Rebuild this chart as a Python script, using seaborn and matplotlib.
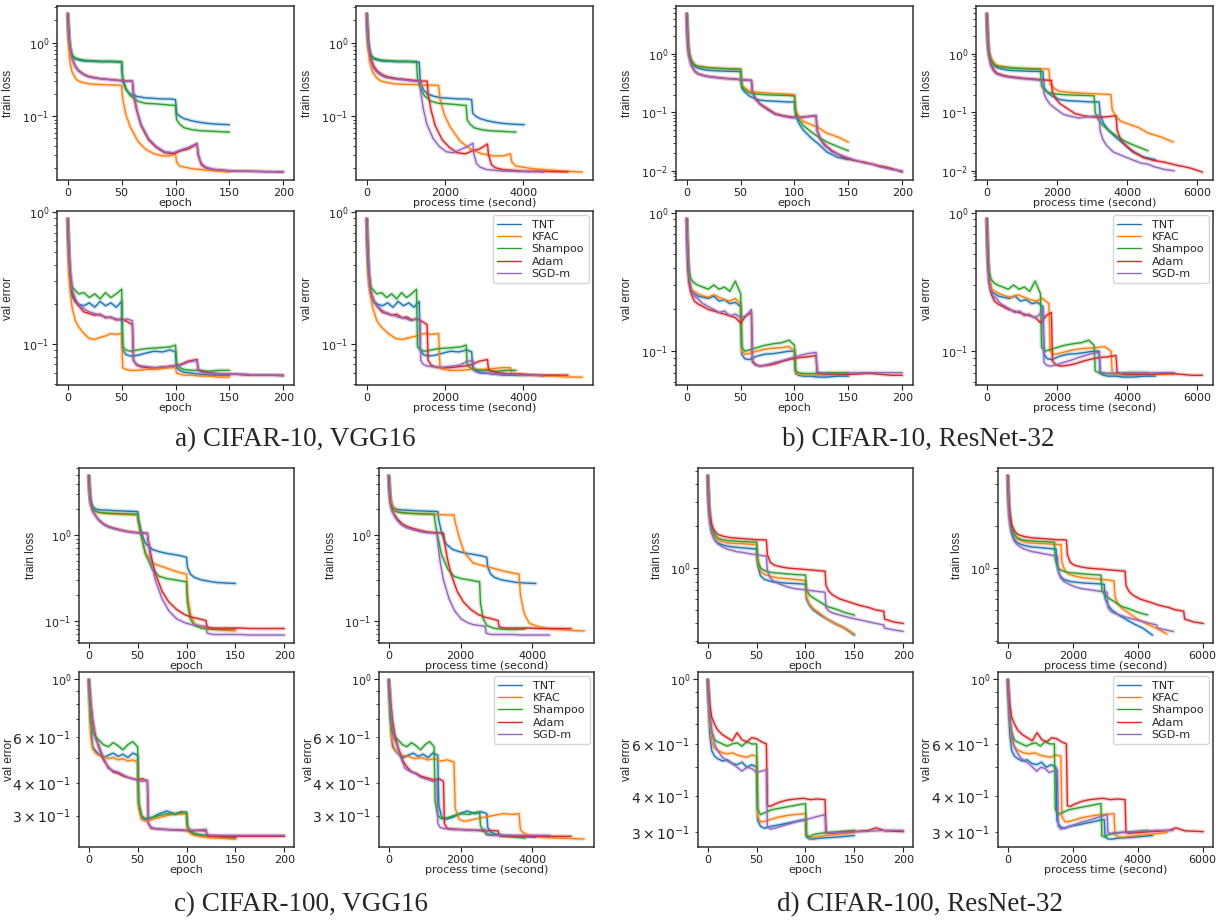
import numpy as np
import pandas as pd
import matplotlib
matplotlib.use('Agg')
import matplotlib.pyplot as plt
from matplotlib.ticker import MultipleLocator
import seaborn as sns

# optimizers (legend order) and run lengths
optimizers = ['TNT', 'KFAC', 'Shampoo', 'Adam', 'SGD-m']
epochs_150 = [0, 1, 2, 4, 7, 10, 15, 20, 25, 30, 35, 40, 45, 50, 51, 54, 58, 65, 72, 80,
              88, 95, 100, 101, 104, 108, 115, 122, 130, 140, 150]
epochs_200 = [0, 1, 2, 4, 7, 10, 15, 20, 25, 30, 35, 40, 45, 50, 55, 60, 61, 64, 68, 75,
              82, 90, 98, 105, 112, 120, 121, 124, 128, 135, 145, 155, 165, 172, 180, 181, 190, 200]

# seconds per epoch (TNT, KFAC, Shampoo, Adam, SGD-m)
a_sec = [26.8, 36.7, 25.4, 25.7, 22.6]
b_sec = [32.0, 35.4, 30.6, 30.7, 26.7]
c_sec = [27.3, 36.3, 25.3, 25.4, 22.4]
d_sec = [29.7, 32.7, 28.7, 30.1, 25.5]

# ---------------- a) CIFAR-10, VGG16 ----------------
a_loss_tnt = [2.45, 1.1, 0.85, 0.66, 0.6, 0.58, 0.56, 0.56, 0.555, 0.55, 0.55, 0.55, 0.545, 0.54, 0.3,
              0.23, 0.2, 0.185, 0.178, 0.175, 0.172, 0.172, 0.168, 0.11, 0.1, 0.093, 0.087, 0.083, 0.08, 0.078, 0.077]
a_loss_kfac = [2.45, 0.8, 0.55, 0.4, 0.33, 0.3, 0.285, 0.275, 0.272, 0.27, 0.268, 0.265, 0.265, 0.262, 0.17,
               0.105, 0.072, 0.046, 0.036, 0.031, 0.029, 0.029, 0.031, 0.024, 0.021, 0.0205, 0.0195, 0.019, 0.0185, 0.018, 0.0175]
a_loss_shampoo = [2.45, 1.2, 0.85, 0.68, 0.62, 0.6, 0.58, 0.57, 0.565, 0.56, 0.56, 0.56, 0.555, 0.555, 0.33,
                  0.24, 0.19, 0.16, 0.15, 0.148, 0.145, 0.142, 0.14, 0.09, 0.078, 0.07, 0.066, 0.064, 0.063, 0.062, 0.061]
a_loss_adam = [2.45, 1.3, 0.9, 0.62, 0.48, 0.42, 0.37, 0.345, 0.335, 0.325, 0.32, 0.315, 0.31, 0.305, 0.3,
               0.3, 0.2, 0.12, 0.075, 0.048, 0.038, 0.032, 0.031, 0.034, 0.036, 0.042, 0.03, 0.022, 0.02, 0.019,
               0.0185, 0.018, 0.018, 0.018, 0.0178, 0.0178, 0.0177, 0.0176]
a_loss_sgd = [2.45, 1.25, 0.88, 0.6, 0.47, 0.41, 0.365, 0.34, 0.33, 0.322, 0.318, 0.312, 0.308, 0.302, 0.298,
              0.302, 0.21, 0.125, 0.078, 0.05, 0.039, 0.033, 0.032, 0.035, 0.038, 0.043, 0.031, 0.023, 0.0205, 0.019,
              0.0185, 0.018, 0.018, 0.0178, 0.0178, 0.0177, 0.0177, 0.0175]

a_val_tnt = [0.89, 0.45, 0.3, 0.23, 0.21, 0.2, 0.195, 0.205, 0.19, 0.21, 0.195, 0.205, 0.19, 0.21, 0.09,
             0.083, 0.081, 0.082, 0.085, 0.088, 0.087, 0.09, 0.087, 0.066, 0.063, 0.061, 0.06, 0.059, 0.058, 0.058, 0.058]
a_val_kfac = [0.89, 0.35, 0.26, 0.19, 0.15, 0.135, 0.12, 0.11, 0.108, 0.112, 0.115, 0.12, 0.118, 0.12, 0.066,
              0.064, 0.063, 0.063, 0.064, 0.064, 0.065, 0.066, 0.066, 0.06, 0.059, 0.058, 0.058, 0.057, 0.057, 0.056, 0.056]
a_val_shampoo = [0.89, 0.5, 0.35, 0.27, 0.255, 0.24, 0.245, 0.225, 0.24, 0.22, 0.245, 0.225, 0.24, 0.26, 0.095,
                 0.09, 0.088, 0.09, 0.092, 0.093, 0.094, 0.095, 0.098, 0.07, 0.066, 0.064, 0.063, 0.063, 0.062, 0.063, 0.063]
a_val_adam = [0.89, 0.5, 0.36, 0.25, 0.21, 0.195, 0.175, 0.17, 0.165, 0.168, 0.158, 0.16, 0.152, 0.155, 0.148,
              0.14, 0.075, 0.069, 0.067, 0.066, 0.066, 0.067, 0.068, 0.07, 0.074, 0.076, 0.064, 0.062, 0.061, 0.06,
              0.059, 0.059, 0.058, 0.058, 0.058, 0.058, 0.058, 0.058]
a_val_sgd = [0.89, 0.55, 0.38, 0.26, 0.22, 0.2, 0.185, 0.175, 0.17, 0.165, 0.16, 0.158, 0.155, 0.15, 0.155,
             0.15, 0.075, 0.07, 0.068, 0.067, 0.066, 0.067, 0.068, 0.069, 0.073, 0.075, 0.063, 0.061, 0.06, 0.06,
             0.059, 0.059, 0.059, 0.058, 0.058, 0.058, 0.058, 0.057]

# ---------------- b) CIFAR-10, ResNet-32 ----------------
b_loss_tnt = [4.8, 1.6, 1.0, 0.75, 0.62, 0.57, 0.54, 0.52, 0.515, 0.51, 0.505, 0.5, 0.5, 0.495, 0.26,
              0.22, 0.19, 0.165, 0.158, 0.155, 0.152, 0.15, 0.15, 0.09, 0.065, 0.05, 0.037, 0.029, 0.021, 0.017, 0.0155]
b_loss_kfac = [4.8, 1.6, 1.05, 0.8, 0.66, 0.62, 0.6, 0.58, 0.57, 0.565, 0.56, 0.555, 0.55, 0.545, 0.3,
               0.26, 0.23, 0.22, 0.215, 0.21, 0.207, 0.203, 0.2, 0.11, 0.085, 0.07, 0.062, 0.055, 0.044, 0.038, 0.031]
b_loss_shampoo = [4.8, 1.6, 1.05, 0.78, 0.65, 0.61, 0.59, 0.575, 0.565, 0.56, 0.555, 0.55, 0.548, 0.545, 0.28,
                  0.24, 0.215, 0.205, 0.2, 0.197, 0.195, 0.193, 0.19, 0.1, 0.075, 0.06, 0.047, 0.038, 0.031, 0.026, 0.022]
b_loss_adam = [4.8, 1.5, 0.95, 0.65, 0.52, 0.46, 0.43, 0.41, 0.4, 0.39, 0.38, 0.375, 0.37, 0.36, 0.355,
               0.35, 0.22, 0.17, 0.14, 0.115, 0.095, 0.087, 0.083, 0.082, 0.084, 0.087, 0.05, 0.035, 0.028, 0.022,
               0.017, 0.015, 0.014, 0.013, 0.012, 0.012, 0.011, 0.0095]
b_loss_sgd = [4.8, 1.5, 0.95, 0.64, 0.51, 0.455, 0.425, 0.405, 0.395, 0.385, 0.378, 0.372, 0.368, 0.36, 0.355,
              0.352, 0.21, 0.165, 0.135, 0.11, 0.092, 0.085, 0.08, 0.082, 0.085, 0.088, 0.048, 0.034, 0.027, 0.021,
              0.018, 0.0155, 0.0135, 0.013, 0.0115, 0.0115, 0.0105, 0.01]

b_val_tnt = [0.9, 0.45, 0.32, 0.27, 0.26, 0.25, 0.245, 0.24, 0.25, 0.23, 0.235, 0.22, 0.225, 0.21, 0.095,
             0.088, 0.087, 0.092, 0.095, 0.096, 0.098, 0.1, 0.1, 0.069, 0.067, 0.066, 0.066, 0.065, 0.065, 0.066, 0.066]
b_val_kfac = [0.9, 0.5, 0.34, 0.28, 0.27, 0.26, 0.25, 0.245, 0.255, 0.245, 0.235, 0.23, 0.24, 0.22, 0.1,
              0.095, 0.096, 0.1, 0.103, 0.105, 0.106, 0.108, 0.1, 0.07, 0.068, 0.067, 0.067, 0.067, 0.068, 0.068, 0.068]
b_val_shampoo = [0.9, 0.5, 0.38, 0.33, 0.31, 0.3, 0.29, 0.28, 0.3, 0.28, 0.29, 0.27, 0.32, 0.26, 0.107,
                 0.1, 0.102, 0.106, 0.11, 0.113, 0.115, 0.12, 0.11, 0.072, 0.07, 0.069, 0.069, 0.069, 0.07, 0.07, 0.07]
b_val_adam = [0.9, 0.45, 0.32, 0.26, 0.23, 0.22, 0.21, 0.2, 0.195, 0.19, 0.185, 0.18, 0.175, 0.16, 0.18,
              0.19, 0.085, 0.08, 0.078, 0.079, 0.081, 0.085, 0.088, 0.09, 0.091, 0.093, 0.07, 0.069, 0.068, 0.068,
              0.068, 0.068, 0.069, 0.069, 0.068, 0.068, 0.067, 0.067]
b_val_sgd = [0.9, 0.48, 0.34, 0.28, 0.25, 0.24, 0.22, 0.21, 0.2, 0.19, 0.195, 0.18, 0.185, 0.175, 0.18,
             0.2, 0.083, 0.079, 0.078, 0.08, 0.083, 0.086, 0.09, 0.093, 0.096, 0.098, 0.071, 0.07, 0.069, 0.069,
             0.069, 0.07, 0.07, 0.07, 0.07, 0.07, 0.07, 0.07]

# ---------------- c) CIFAR-100, VGG16 ----------------
c_loss_tnt = [4.9, 3.2, 2.5, 2.15, 2.02, 1.98, 1.96, 1.95, 1.93, 1.92, 1.91, 1.9, 1.89, 1.88, 1.5,
              1.05, 0.8, 0.68, 0.64, 0.61, 0.59, 0.57, 0.55, 0.42, 0.35, 0.32, 0.3, 0.29, 0.28, 0.275, 0.272]
c_loss_kfac = [4.9, 3.0, 2.4, 2.05, 1.9, 1.83, 1.8, 1.78, 1.76, 1.75, 1.74, 1.73, 1.72, 1.72, 1.4,
               0.95, 0.62, 0.47, 0.44, 0.41, 0.38, 0.36, 0.35, 0.2, 0.12, 0.093, 0.085, 0.081, 0.079, 0.077, 0.076]
c_loss_shampoo = [4.9, 3.0, 2.4, 2.05, 1.9, 1.85, 1.82, 1.8, 1.79, 1.78, 1.77, 1.77, 1.76, 1.75, 1.4,
                  0.95, 0.6, 0.4, 0.33, 0.31, 0.3, 0.29, 0.285, 0.16, 0.105, 0.088, 0.082, 0.08, 0.079, 0.079, 0.08]
c_loss_adam = [4.9, 3.0, 2.3, 1.9, 1.68, 1.52, 1.35, 1.26, 1.21, 1.17, 1.13, 1.1, 1.08, 1.07, 1.06,
               1.05, 0.85, 0.55, 0.36, 0.22, 0.165, 0.135, 0.118, 0.11, 0.106, 0.1, 0.085, 0.083, 0.082, 0.082,
               0.082, 0.082, 0.081, 0.081, 0.081, 0.081, 0.081, 0.081]
c_loss_sgd = [4.9, 3.0, 2.3, 1.9, 1.68, 1.5, 1.33, 1.24, 1.19, 1.15, 1.12, 1.09, 1.07, 1.06, 1.05,
              1.04, 0.8, 0.48, 0.3, 0.18, 0.13, 0.105, 0.095, 0.09, 0.088, 0.086, 0.072, 0.07, 0.069, 0.069,
              0.069, 0.069, 0.068, 0.068, 0.068, 0.068, 0.068, 0.068]

c_val_tnt = [0.99, 0.8, 0.65, 0.55, 0.53, 0.515, 0.5, 0.51, 0.52, 0.505, 0.515, 0.5, 0.52, 0.51, 0.33,
             0.295, 0.29, 0.295, 0.305, 0.312, 0.305, 0.31, 0.305, 0.27, 0.26, 0.255, 0.252, 0.251, 0.25, 0.249, 0.248]
c_val_kfac = [0.99, 0.75, 0.6, 0.54, 0.52, 0.51, 0.505, 0.495, 0.5, 0.49, 0.495, 0.485, 0.49, 0.48, 0.32,
              0.29, 0.285, 0.29, 0.295, 0.3, 0.305, 0.303, 0.305, 0.265, 0.256, 0.252, 0.249, 0.247, 0.246, 0.245, 0.244]
c_val_shampoo = [0.99, 0.8, 0.7, 0.62, 0.6, 0.585, 0.56, 0.55, 0.57, 0.555, 0.535, 0.56, 0.575, 0.55, 0.34,
                 0.3, 0.292, 0.295, 0.3, 0.305, 0.303, 0.308, 0.31, 0.275, 0.262, 0.256, 0.253, 0.252, 0.25, 0.248, 0.246]
c_val_adam = [0.99, 0.9, 0.82, 0.7, 0.6, 0.55, 0.49, 0.46, 0.44, 0.435, 0.425, 0.42, 0.415, 0.41, 0.415,
              0.405, 0.28, 0.268, 0.267, 0.266, 0.265, 0.264, 0.263, 0.262, 0.263, 0.262, 0.252, 0.25, 0.25, 0.25,
              0.25, 0.25, 0.25, 0.25, 0.25, 0.25, 0.25, 0.25]
c_val_sgd = [0.99, 0.9, 0.8, 0.68, 0.59, 0.56, 0.5, 0.455, 0.445, 0.44, 0.43, 0.42, 0.415, 0.41, 0.405,
             0.41, 0.28, 0.27, 0.268, 0.266, 0.265, 0.265, 0.264, 0.264, 0.264, 0.266, 0.254, 0.252, 0.252, 0.252,
             0.252, 0.252, 0.252, 0.252, 0.252, 0.252, 0.252, 0.252]

# ---------------- d) CIFAR-100, ResNet-32 ----------------
d_loss_tnt = [4.6, 2.8, 2.2, 1.8, 1.6, 1.52, 1.47, 1.44, 1.42, 1.41, 1.4, 1.39, 1.38, 1.37, 1.05,
              0.88, 0.83, 0.8, 0.79, 0.78, 0.775, 0.77, 0.765, 0.6, 0.54, 0.5, 0.46, 0.43, 0.4, 0.37, 0.33]
d_loss_kfac = [4.6, 2.9, 2.3, 1.9, 1.7, 1.6, 1.55, 1.52, 1.51, 1.5, 1.5, 1.49, 1.48, 1.48, 1.1,
               0.95, 0.9, 0.87, 0.85, 0.84, 0.83, 0.82, 0.81, 0.62, 0.55, 0.51, 0.47, 0.43, 0.4, 0.37, 0.335]
d_loss_shampoo = [4.6, 3.0, 2.4, 1.95, 1.75, 1.65, 1.6, 1.58, 1.57, 1.56, 1.55, 1.55, 1.54, 1.54, 1.15,
                  1.0, 0.96, 0.93, 0.92, 0.91, 0.9, 0.895, 0.89, 0.7, 0.64, 0.61, 0.57, 0.53, 0.51, 0.48, 0.46]
d_loss_adam = [4.6, 3.0, 2.5, 2.05, 1.85, 1.75, 1.7, 1.67, 1.65, 1.64, 1.63, 1.62, 1.61, 1.6, 1.6,
               1.59, 1.25, 1.1, 1.05, 1.02, 1.0, 0.99, 0.98, 0.97, 0.96, 0.95, 0.75, 0.68, 0.64, 0.6,
               0.57, 0.54, 0.52, 0.5, 0.49, 0.43, 0.41, 0.4]
d_loss_sgd = [4.6, 2.8, 2.2, 1.8, 1.6, 1.5, 1.42, 1.37, 1.34, 1.31, 1.3, 1.28, 1.26, 1.25, 1.23,
              1.22, 0.95, 0.85, 0.8, 0.76, 0.73, 0.71, 0.7, 0.69, 0.68, 0.67, 0.52, 0.49, 0.475, 0.46,
              0.44, 0.425, 0.41, 0.4, 0.39, 0.37, 0.36, 0.35]

d_val_tnt = [0.99, 0.8, 0.65, 0.57, 0.545, 0.535, 0.525, 0.53, 0.515, 0.51, 0.52, 0.5, 0.51, 0.5, 0.33,
             0.315, 0.31, 0.315, 0.318, 0.322, 0.326, 0.33, 0.332, 0.29, 0.285, 0.285, 0.287, 0.288, 0.289, 0.291, 0.293]
d_val_kfac = [0.99, 0.82, 0.7, 0.61, 0.58, 0.57, 0.56, 0.555, 0.56, 0.55, 0.545, 0.54, 0.55, 0.545, 0.34,
              0.326, 0.327, 0.333, 0.338, 0.342, 0.345, 0.346, 0.348, 0.295, 0.29, 0.289, 0.291, 0.293, 0.295, 0.297, 0.3]
d_val_shampoo = [0.99, 0.85, 0.75, 0.66, 0.62, 0.61, 0.6, 0.59, 0.6, 0.605, 0.59, 0.61, 0.6, 0.6, 0.36,
                 0.345, 0.35, 0.358, 0.362, 0.366, 0.37, 0.374, 0.376, 0.292, 0.29, 0.295, 0.298, 0.3, 0.301, 0.303, 0.305]
d_val_adam = [0.99, 0.9, 0.82, 0.74, 0.7, 0.67, 0.645, 0.63, 0.615, 0.655, 0.62, 0.61, 0.63, 0.625, 0.61,
              0.6, 0.37, 0.368, 0.374, 0.382, 0.387, 0.39, 0.392, 0.388, 0.39, 0.388, 0.3, 0.298, 0.299, 0.3,
              0.302, 0.303, 0.305, 0.311, 0.305, 0.304, 0.303, 0.302]
d_val_sgd = [0.99, 0.85, 0.75, 0.67, 0.6, 0.57, 0.54, 0.525, 0.515, 0.5, 0.485, 0.5, 0.495, 0.48, 0.485,
             0.49, 0.315, 0.308, 0.31, 0.315, 0.32, 0.326, 0.33, 0.335, 0.34, 0.345, 0.3, 0.298, 0.299, 0.3,
             0.301, 0.302, 0.303, 0.304, 0.305, 0.305, 0.305, 0.305]

captions = ['a) CIFAR-10, VGG16', 'b) CIFAR-10, ResNet-32',
            'c) CIFAR-100, VGG16', 'd) CIFAR-100, ResNet-32']


def make_df(series, sec):
    rows = []
    for name, vals, s in zip(optimizers, series, sec):
        ep = epochs_150 if len(vals) == len(epochs_150) else epochs_200
        assert len(vals) == len(ep), name
        for e, v in zip(ep, vals):
            rows.append((name, e, e * s, v))
    return pd.DataFrame(rows, columns=['opt', 'epoch', 'time', 'value'])


groups = [
    (make_df([a_loss_tnt, a_loss_kfac, a_loss_shampoo, a_loss_adam, a_loss_sgd], a_sec),
     make_df([a_val_tnt, a_val_kfac, a_val_shampoo, a_val_adam, a_val_sgd], a_sec)),
    (make_df([b_loss_tnt, b_loss_kfac, b_loss_shampoo, b_loss_adam, b_loss_sgd], b_sec),
     make_df([b_val_tnt, b_val_kfac, b_val_shampoo, b_val_adam, b_val_sgd], b_sec)),
    (make_df([c_loss_tnt, c_loss_kfac, c_loss_shampoo, c_loss_adam, c_loss_sgd], c_sec),
     make_df([c_val_tnt, c_val_kfac, c_val_shampoo, c_val_adam, c_val_sgd], c_sec)),
    (make_df([d_loss_tnt, d_loss_kfac, d_loss_shampoo, d_loss_adam, d_loss_sgd], d_sec),
     make_df([d_val_tnt, d_val_kfac, d_val_shampoo, d_val_adam, d_val_sgd], d_sec)),
]

# ===============================================================
sns.set_style('ticks')
plt.rcParams['font.family'] = ['DejaVu Sans']
plt.rcParams['axes.edgecolor'] = '#333333'
plt.rcParams['axes.linewidth'] = 1.1
plt.rcParams['xtick.major.size'] = 3.5
plt.rcParams['ytick.major.size'] = 3.5
plt.rcParams['ytick.minor.size'] = 2
plt.rcParams['xtick.major.pad'] = 2
plt.rcParams['ytick.major.pad'] = 2
plt.rcParams['xtick.color'] = '#222222'
plt.rcParams['ytick.color'] = '#222222'

palette = sns.color_palette('tab10', 5)
W, H = 1225, 922
fig = plt.figure(figsize=(W / 100, H / 100), dpi=100)

# pixel boxes: (lefts of the two columns, width, tops of the two rows, height)
layout = [
    ((57, 356), 237, (6, 211), 174),
    ((676, 976), 237, (6, 211), 174),
    ((79, 379), 215, (468, 672), 175),
    ((698, 998), 215, (468, 672), 175),
]
# distance (px) from axes left edge to the y label centre, per row
ylabel_offset = [(43, 43), (43, 43), (42, 64), (35, 65)]
caption_pos = [(295, 440), (918, 440), (301, 905), (920, 905)]
narrow = ['Liberation Sans Narrow', 'DejaVu Sans Condensed', 'Liberation Sans']


def draw(ax, df, xcol, xlabel, ylabel, legend):
    sns.lineplot(data=df, x=xcol, y='value', hue='opt', hue_order=optimizers, palette=palette,
                 estimator=None, sort=False, lw=3.0, alpha=0.22, legend=False, ax=ax)
    sns.lineplot(data=df, x=xcol, y='value', hue='opt', hue_order=optimizers, palette=palette,
                 estimator=None, sort=False, lw=1.0, legend=legend, ax=ax)
    ax.set_yscale('log')
    if xcol == 'time':
        ax.xaxis.set_major_locator(MultipleLocator(2000))
    ax.tick_params(labelsize=8)
    ax.set_xlabel(xlabel, fontsize=8, labelpad=0)
    ax.set_ylabel(ylabel, fontsize=8.5, family=narrow)
    if legend:
        handles, labels = ax.get_legend_handles_labels()
        ax.legend(handles, labels, loc='upper right', fontsize=8, labelspacing=0.2,
                  handlelength=2.1, handletextpad=1.0, borderaxespad=0.4, frameon=True)
    elif ax.get_legend() is not None:
        ax.get_legend().remove()


for g, (lefts, w, tops, h) in enumerate(layout):
    loss_df, val_df = groups[g]
    for r, top in enumerate(tops):
        for c, left in enumerate(lefts):
            ax = fig.add_axes([left / W, 1 - (top + h) / H, w / W, h / H])
            df = loss_df if r == 0 else val_df
            xcol = 'epoch' if c == 0 else 'time'
            xlabel = 'epoch' if c == 0 else 'process time (second)'
            ylabel = 'train loss' if r == 0 else 'val error'
            draw(ax, df, xcol, xlabel, ylabel, legend=(r == 1 and c == 1))
            ax.yaxis.set_label_coords(-ylabel_offset[g][r] / w, 0.5)
    cx, cy = caption_pos[g]
    fig.text(cx / W, 1 - cy / H, captions[g], ha='center', va='center',
             family='Liberation Serif', fontsize=19.5)

fig.savefig('out.png', dpi=100)
